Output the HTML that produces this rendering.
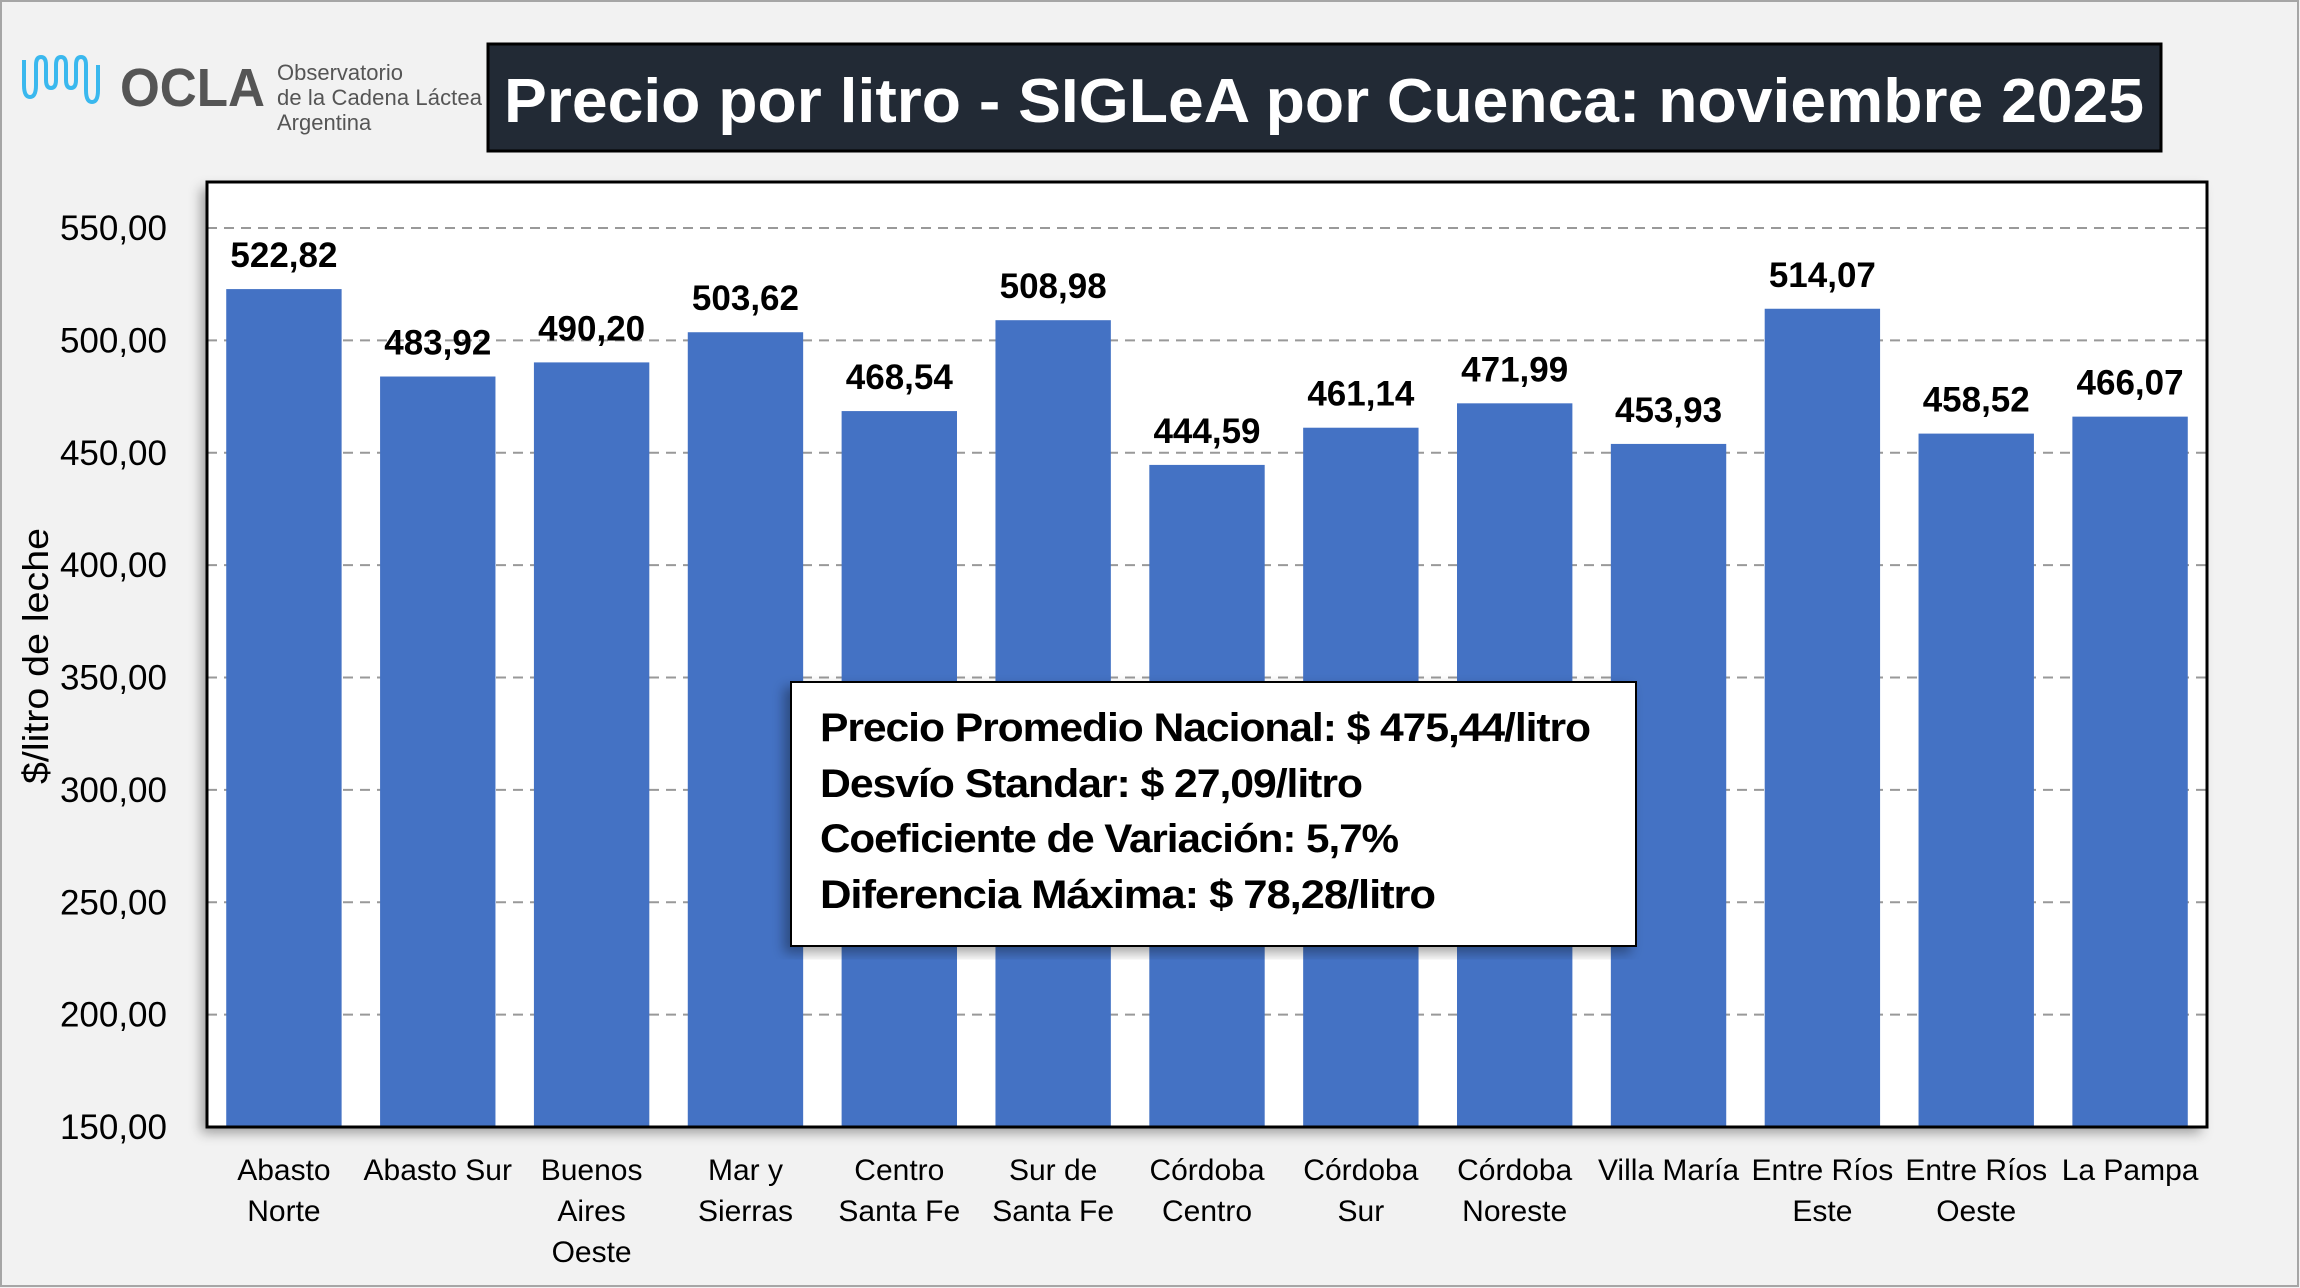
<!DOCTYPE html>
<html><head><meta charset="utf-8"><style>
html,body{margin:0;padding:0;background:#f2f2f2;}
svg{display:block;font-family:"Liberation Sans",sans-serif;}
</style></head><body>
<svg id="chart" width="2300" height="1288" viewBox="0 0 2300 1288">
<defs><filter id="sh" x="-5%" y="-5%" width="110%" height="110%"><feDropShadow dx="-6" dy="6" stdDeviation="6" flood-color="#000" flood-opacity="0.35"/></filter></defs>
<rect x="1" y="1" width="2297" height="1285" fill="#f2f2f2" stroke="#a6a6a6" stroke-width="2"/>
<g>
<path d="M24,60 v25 q0,12 6,12 q6,0 6,-12 v-20 q0,-8 5,-8 q5,0 5,8 v15 q0,8 5,8 q5,0 5,-8 v-15 q0,-8 5,-8 q5,0 5,8 v15 q0,8 5,8 q5,0 5,-8 v-15 q0,-8 5,-8 q5,0 5,8 v25 q0,12 6,12 q6,0 6,-12 v-25" fill="none" stroke="#3ab8ee" stroke-width="4"/>
<text x="120" y="106" font-size="54" font-weight="bold" fill="#555" textLength="145" lengthAdjust="spacingAndGlyphs">OCLA</text>
<text x="277" y="80" font-size="22" fill="#555">Observatorio</text>
<text x="277" y="105" font-size="22" fill="#555" textLength="205">de la Cadena Láctea</text>
<text x="277" y="130" font-size="22" fill="#555">Argentina</text>
</g>
<rect x="488" y="44" width="1673" height="107" fill="#222a35" stroke="#000" stroke-width="3"/>
<text x="1324" y="122" font-size="62" font-weight="bold" fill="#fff" text-anchor="middle" textLength="1640" lengthAdjust="spacingAndGlyphs">Precio por litro - SIGLeA por Cuenca: noviembre 2025</text>
<rect x="207" y="182" width="2000" height="945" fill="#fff" filter="url(#sh)"/>
<g id="grid"></g>
<g id="bars"></g>
<rect x="207" y="182" width="2000" height="945" fill="none" stroke="#000" stroke-width="3"/>
<g id="yticks"></g>
<g id="xlabels"></g>
<text transform="translate(48,656) rotate(-90)" font-size="36" text-anchor="middle" fill="#000" textLength="256" lengthAdjust="spacingAndGlyphs">$/litro de leche</text>
<g>
<rect x="791" y="682" width="845" height="264" fill="#fff" stroke="#000" stroke-width="2" filter="url(#sh)"/>
<g font-size="40" font-weight="bold" fill="#000" letter-spacing="-1">
<text x="820" y="741" textLength="770" lengthAdjust="spacingAndGlyphs">Precio Promedio Nacional: $ 475,44/litro</text>
<text x="820" y="797" textLength="542" lengthAdjust="spacingAndGlyphs">Desvío Standar: $ 27,09/litro</text>
<text x="820" y="852" textLength="578" lengthAdjust="spacingAndGlyphs">Coeficiente de Variación: 5,7%</text>
<text x="820" y="908" textLength="615" lengthAdjust="spacingAndGlyphs">Diferencia Máxima: $ 78,28/litro</text>
</g></g>
</svg>
<script>
const categories=[["Abasto","Norte"],["Abasto Sur"],["Buenos","Aires","Oeste"],["Mar y","Sierras"],["Centro","Santa Fe"],["Sur de","Santa Fe"],["Córdoba","Centro"],["Córdoba","Sur"],["Córdoba","Noreste"],["Villa María"],["Entre Ríos","Este"],["Entre Ríos","Oeste"],["La Pampa"]];
const values=[522.82,483.92,490.20,503.62,468.54,508.98,444.59,461.14,471.99,453.93,514.07,458.52,466.07];
const yTicks=[150,200,250,300,350,400,450,500,550];
const NS="http://www.w3.org/2000/svg";
const L=207,R=2207,B=1127,yMin=150,yMax=550,yTopPx=228;
const y=v=>B-(v-yMin)*(B-yTopPx)/(yMax-yMin);
const band=(R-L)/categories.length;
const x=i=>L+band*(i+0.5);
const fmt=v=>v.toFixed(2).replace('.',',');
function mk(tag,attrs,parent){const e=document.createElementNS(NS,tag);for(const k in attrs)e.setAttribute(k,attrs[k]);parent.appendChild(e);return e;}
const grid=document.getElementById('grid'),bars=document.getElementById('bars'),yt=document.getElementById('yticks'),xl=document.getElementById('xlabels');
yTicks.forEach(t=>{
 if(t>yMin){const g=mk('line',{x1:L,x2:R,y1:y(t),y2:y(t),stroke:'#999','stroke-width':2,'stroke-dasharray':'10,7'},grid);
 
 }
 const tx=mk('text',{x:167,y:y(t)+12,'font-size':35,'text-anchor':'end',fill:'#000'},yt);
 tx.textContent=fmt(t);
 
 
});
const bw=band*0.75;
values.forEach((v,i)=>{
 const r=mk('rect',{x:x(i)-bw/2,y:y(v),width:bw,height:B-y(v),fill:'#4472c4'},bars);
 
 
 const lb=mk('text',{x:x(i),y:y(v)-22,'font-size':35,'font-weight':'bold','text-anchor':'middle',fill:'#000'},bars);
 lb.textContent=fmt(v);
 
 
 categories[i].forEach((ln,j)=>{
  const t=mk('text',{x:x(i),y:1180+j*41,'font-size':30,'text-anchor':'middle',fill:'#000'},xl);
  t.textContent=ln;
  
  
 });
});
</script>
</body></html>
